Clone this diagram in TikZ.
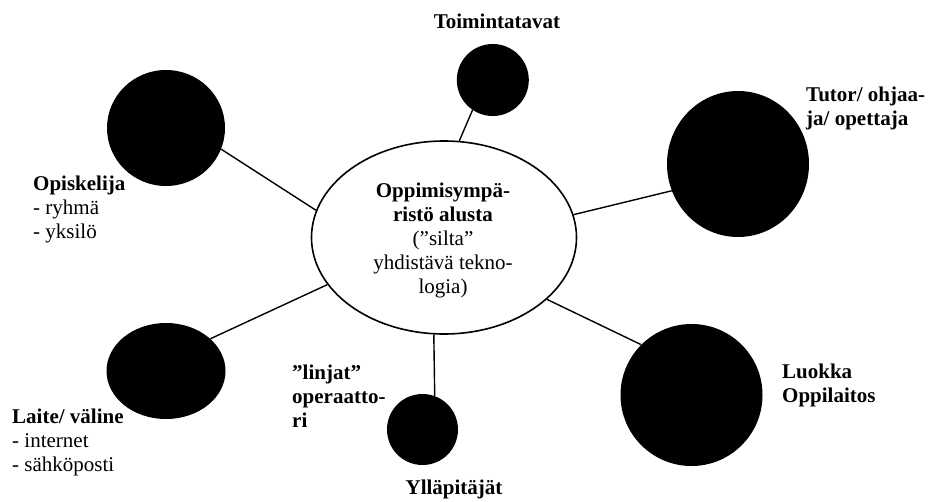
\documentclass[tikz,border=0pt]{standalone}
\usepackage{fontspec}
\setmainfont{Liberation Serif}
\usetikzlibrary{shapes.geometric}
\tikzset{
  blob/.style={ellipse, fill=black, draw=none, inner sep=0pt},
  conn/.style={line width=1.4pt, black},
  lbl/.style={font=\fontsize{21}{24}\selectfont, inner sep=0pt},
}
\begin{document}
\begin{tikzpicture}[x=1pt,y=-1pt]
\useasboundingbox (0,0) rectangle (929,501);
% hub
\node[draw, ellipse, line width=1.6pt, minimum width=265pt, minimum height=193pt, inner sep=0pt] (hub) at (444,237.5) {};
% satellites
\node[blob, minimum width=118pt, minimum height=116pt] (opisk) at (166,128) {};
\node[blob, minimum width=72pt, minimum height=72pt] (toim) at (492.8,80) {};
\node[blob, minimum width=142pt, minimum height=146pt] (tutor) at (738,164) {};
\node[blob, minimum width=142pt, minimum height=142pt] (luokka) at (691.5,395) {};
\node[blob, minimum width=119pt, minimum height=96pt] (laite) at (166,371) {};
\node[blob, minimum width=71pt, minimum height=71pt] (yllap) at (422.5,429.5) {};
% connectors
\draw[conn] (hub.168.5) -- (opisk.339);
\draw[conn] (hub.202.5) -- (laite.36.9);
\draw[conn] (hub.81.7) -- (toim.236.6);
\draw[conn] (hub.10.6) -- (tutor.202.2);
\draw[conn] (hub.329.4) -- (luokka.135.8);
\draw[conn] (hub.264.7) -- (yllap.70);
% labels
\node[lbl, anchor=base] (thub) at (443,197) {\begin{tabular}[t]{@{}c@{}}\textbf{Oppimisympä-}\\\textbf{ristö alusta}\\(”silta”\\yhdistävä tekno-\\logia)\end{tabular}};
\node[lbl, anchor=base] (ttoim) at (497,28) {\textbf{Toimintatavat}};
\node[lbl, anchor=base west] (ttutor) at (806,101) {\begin{tabular}[t]{@{}l@{}}\textbf{Tutor/ ohjaa-}\\\textbf{ja/ opettaja}\end{tabular}};
\node[lbl, anchor=base west] (tluokka) at (782,378) {\begin{tabular}[t]{@{}l@{}}\textbf{Luokka}\\\textbf{Oppilaitos}\end{tabular}};
\node[lbl, anchor=base west] (tlinjat) at (292,379) {\begin{tabular}[t]{@{}l@{}}\textbf{”linjat”}\\\textbf{operaatto-}\\\textbf{ri}\end{tabular}};
\node[lbl, anchor=base west] (tlaite) at (12,423) {\begin{tabular}[t]{@{}l@{}}\textbf{Laite/ väline}\\- internet\\- sähköposti\end{tabular}};
\node[lbl, anchor=base west] (topisk) at (33,190) {\begin{tabular}[t]{@{}l@{}}\textbf{Opiskelija}\\- ryhmä\\- yksilö\end{tabular}};
\node[lbl, anchor=base] (tyllap) at (454,494) {\textbf{Ylläpitäjät}};
\end{tikzpicture}
\end{document}
